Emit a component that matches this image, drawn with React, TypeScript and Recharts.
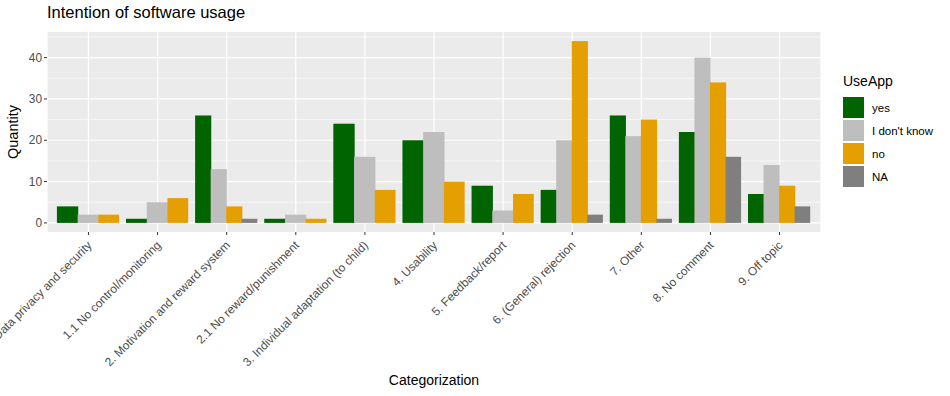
import { BarChart, Bar, XAxis, YAxis, CartesianGrid } from "recharts";

const categories = [
  "1. Data privacy and security",
  "1.1 No control/monitoring",
  "2. Motivation and reward system",
  "2.1 No reward/punishment",
  "3. Individual adaptation (to child)",
  "4. Usability",
  "5. Feedback/report",
  "6. (General) rejection",
  "7. Other",
  "8. No comment",
  "9. Off topic",
];

const yesValues = [4, 1, 26, 1, 24, 20, 9, 8, 26, 22, 7];
const dontKnowValues = [2, 5, 13, 2, 16, 22, 3, 20, 21, 40, 14];
const noValues = [2, 6, 4, 1, 8, 10, 7, 44, 25, 34, 9];
const naValues = [null, null, 1, null, null, null, null, 2, 1, 16, 4];

const yTicks = [0, 10, 20, 30, 40];
const yMinor = [5, 15, 25, 35, 45];

const SERIES = [
  { key: "yes", label: "yes", color: "#006400" },
  { key: "idk", label: "I don't know", color: "#BEBEBE" },
  { key: "no", label: "no", color: "#E69F00" },
  { key: "na", label: "NA", color: "#7F7F7F" },
];

const data = categories.map((cat, i) => ({
  cat,
  yes: yesValues[i],
  idk: dontKnowValues[i],
  no: noValues[i],
  na: naValues[i],
}));

const FONT = '"Liberation Sans", Arial, Helvetica, sans-serif';

// ggplot-style dodge: the bars present in a category share the whole group width
function makeShape(seriesIndex: number) {
  return (props: any) => {
    const { x, y, width, height, payload } = props;
    if (height == null || width == null) return null;
    const groupStart = x - seriesIndex * width;
    const groupWidth = width * SERIES.length;
    const present = SERIES.filter((s) => payload[s.key] != null).map((s) => s.key);
    const k = present.indexOf(SERIES[seriesIndex].key);
    const w = groupWidth / present.length;
    // slight overlap to the right hides the anti-aliasing seam between neighbours
    const extra = k < present.length - 1 ? 0.6 : 0;
    return (
      <rect
        x={groupStart + k * w}
        y={y}
        width={w + extra}
        height={height}
        fill={SERIES[seriesIndex].color}
      />
    );
  };
}

function XTick(props: any) {
  const { x, y, payload } = props;
  return (
    <text
      x={x + 4}
      y={y + 9}
      textAnchor="end"
      fill="#4D4D4D"
      fontSize={11.9}
      fontFamily={FONT}
      transform={`rotate(-45, ${x + 4}, ${y + 9})`}
    >
      {payload.value}
    </text>
  );
}

export default function App() {
  return (
    <div style={{ position: "absolute", left: 0, top: 0, width: 950, height: 396, background: "#fff" }}>
      <div
        style={{
          position: "absolute",
          left: 47,
          top: 3,
          fontFamily: FONT,
          fontSize: 16.5,
          color: "#000",
        }}
      >
        Intention of software usage
      </div>
      <BarChart
        width={950}
        height={396}
        data={data}
        margin={{ top: 32, right: 129, left: 0, bottom: 0 }}
        barSize={15.55}
        barGap={0}
      >
        <CartesianGrid
          fill="#EBEBEB"
          stroke="#FFFFFF"
          strokeWidth={0.6}
          vertical={false}
          horizontalValues={yMinor}
        />
        <CartesianGrid stroke="#FFFFFF" strokeWidth={1.2} horizontalValues={yTicks} />
        <XAxis
          dataKey="cat"
          interval={0}
          height={164}
          padding={{ left: 6.9, right: 6.9 }}
          axisLine={false}
          tickLine={{ stroke: "#333333" }}
          tickSize={3}
          tick={<XTick />}
          label={{
            value: "Categorization",
            position: "insideBottom",
            offset: 11,
            fill: "#000",
            fontSize: 14,
            fontFamily: FONT,
          }}
        />
        <YAxis
          type="number"
          domain={[-2.2, 46.2]}
          ticks={yTicks}
          width={47}
          axisLine={false}
          tickLine={{ stroke: "#333333" }}
          tickSize={3}
          tick={{ fill: "#4D4D4D", fontSize: 11.9, fontFamily: FONT }}
          label={{
            content: (p: any) => {
              const vb = p.viewBox;
              const cy = vb.y + vb.height / 2;
              return (
                <text
                  x={18}
                  y={cy}
                  textAnchor="middle"
                  fill="#000"
                  fontSize={14.5}
                  fontFamily={FONT}
                  transform={`rotate(-90, 18, ${cy})`}
                >
                  Quantity
                </text>
              );
            },
          }}
        />
        {SERIES.map((s, i) => (
          <Bar
            key={s.key}
            dataKey={s.key}
            name={s.label}
            fill={s.color}
            shape={makeShape(i)}
            isAnimationActive={false}
          />
        ))}
      </BarChart>
      <div style={{ position: "absolute", left: 843, top: 73, fontFamily: FONT }}>
        <div style={{ fontSize: 14, color: "#000", marginBottom: 7 }}>UseApp</div>
        {SERIES.map((s) => (
          <div key={s.key} style={{ display: "flex", alignItems: "center", height: 23 }}>
            <div style={{ width: 21, height: 21, background: s.color, marginRight: 8 }} />
            <span style={{ fontSize: 11.5, color: "#000" }}>{s.label}</span>
          </div>
        ))}
      </div>
    </div>
  );
}
